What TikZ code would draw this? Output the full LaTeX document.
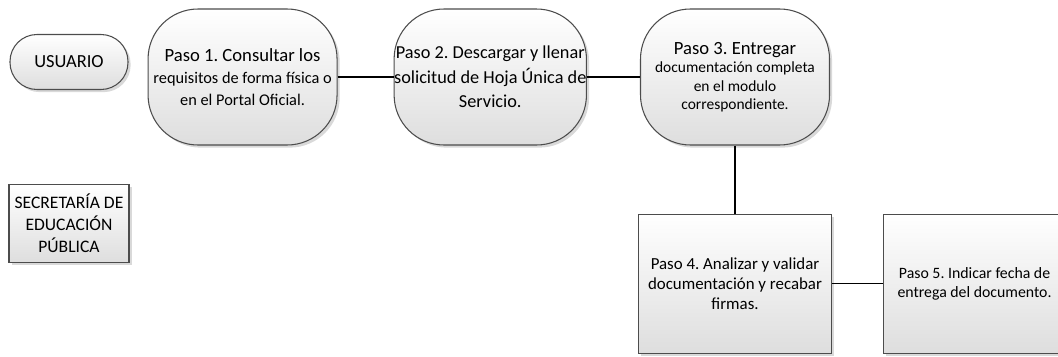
\documentclass[tikz,border=0pt]{standalone}
\usepackage{fontspec}
\setmainfont{Carlito}
\frenchspacing
\usetikzlibrary{positioning, shadows}

\begin{document}
\begin{tikzpicture}[node distance=1.1cm,auto]
  \tikzstyle{base}=[draw=black!70,line width=0.6pt,top color=white,bottom color=black!13,
    drop shadow={shadow xshift=1.5pt,shadow yshift=-1.5pt,opacity=0.3},align=center,inner sep=0pt]
  \tikzstyle{actor}=[base,rounded corners=0.54cm,minimum width=2.36cm,minimum height=1.1cm,font=\fontsize{10.5}{12}\selectfont]
  \tikzstyle{stepround}=[base,rounded corners=1cm,minimum width=3.78cm,minimum height=2.72cm,font=\fontsize{10}{13}\selectfont]
  \tikzstyle{stepbox}=[base,minimum width=3.86cm,minimum height=2.78cm,font=\fontsize{9.6}{11.2}\selectfont]
  \tikzstyle{org}=[base,minimum width=2.4cm,minimum height=1.56cm,font=\fontsize{10}{12.5}\selectfont]
  \tikzstyle{link}=[line width=0.8pt]
  \useasboundingbox (0,0) rectangle (21.16,7.12);
  \node[actor] (usuario) at (1.38,5.88) {USUARIO};
  \node[org] (sep) [below=1.88cm of usuario] {SECRETARÍA DE\\EDUCACIÓN\\PÚBLICA};
  \node[stepround,font=\fontsize{9.3}{12.5}\selectfont] (p1) [right=0.38cm of usuario,yshift=-0.3cm]
    {{\fontsize{10.6}{13}\selectfont Paso 1. Consultar los}\\requisitos de forma física o\\en el Portal Oficial.};
  \node[stepround,font=\fontsize{10.4}{14}\selectfont] (p2) [right=1.12cm of p1]
    {Paso 2. Descargar y llenar\\solicitud de Hoja Única de\\Servicio.};
  \node[stepround,font=\fontsize{8.8}{10.5}\selectfont] (p3) [right=1.06cm of p2]
    {{\fontsize{10.6}{13}\selectfont Paso 3. Entregar}\\documentación completa\\en el modulo\\correspondiente.};
  \node[stepbox] (p4) [below=1.36cm of p3] {Paso 4. Analizar y validar\\documentación y recabar\\firmas.};
  \node[stepbox,minimum width=3.64cm,font=\fontsize{9}{11}\selectfont] (p5) [right=1.02cm of p4]
    {Paso 5. Indicar fecha de\\entrega del documento.};
  \path[link] (p1) edge (p2)
        (p2) edge (p3)
        (p3) edge (p4)
        (p4) edge (p5);
\end{tikzpicture}
\end{document}
